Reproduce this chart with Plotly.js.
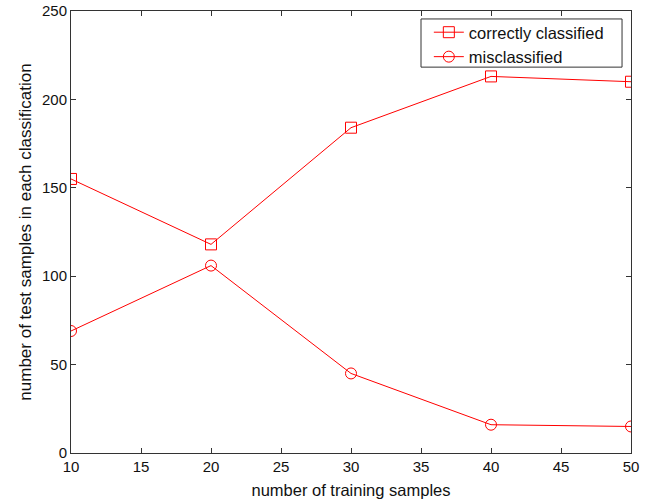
<!DOCTYPE html>
<html>
<head>
<meta charset="utf-8">
<script src="https://cdn.plot.ly/plotly-3.0.1.min.js"></script>
<style>html,body{margin:0;padding:0;background:#fff;}#chart{width:657px;height:504px;}</style>
</head>
<body>
<div id="chart"></div>
<script>
const trainingSamples = [10, 20, 30, 40, 50];
const correctlyClassified = [155, 118, 184, 213, 210];
const misclassified = [69, 106, 45, 16, 15];
const seriesNames = ["correctly classified", "misclassified"];

const fam = "Liberation Sans, Arial, sans-serif";
const tickFont = {family: fam, size: 15, color: "#111"};
const traces = [
  {x: trainingSamples, y: correctlyClassified, name: seriesNames[0], mode: "lines+markers",
   line: {color: "#ff0000", width: 1}, marker: {symbol: "square-open", size: 11, color: "#ff0000", line: {width: 1}}},
  {x: trainingSamples, y: misclassified, name: seriesNames[1], mode: "lines+markers",
   line: {color: "#ff0000", width: 1}, marker: {symbol: "circle-open", size: 11, color: "#ff0000", line: {width: 1}}}
];
const axisCommon = {showgrid: false, zeroline: false, showline: true, linecolor: "#333", linewidth: 1,
  mirror: "ticks", ticks: "inside", ticklen: 5, tickcolor: "#333", tickfont: tickFont};
const layout = {
  width: 657, height: 504,
  margin: {l: 71, r: 26, t: 11, b: 51},
  paper_bgcolor: "#fff", plot_bgcolor: "#fff",
  font: tickFont,
  showlegend: true,
  legend: {x: 0.639, y: 0.991, xanchor: "left", yanchor: "top", borderwidth: 0,
    bgcolor: "rgba(0,0,0,0)", font: {family: fam, size: 16.5, color: "#111"}, tracegroupgap: 0},
  shapes: [{type: "rect", xref: "paper", yref: "paper", x0: 0.625, x1: 0.984, y0: 0.873, y1: 0.982,
    line: {color: "#333", width: 1}, fillcolor: "rgba(0,0,0,0)", layer: "above"}],
  xaxis: Object.assign({}, axisCommon, {range: [10, 50], tickvals: [10,15,20,25,30,35,40,45,50],
    title: {text: "number of training samples", font: {family: fam, size: 16.5, color: "#111"}, standoff: 10}}),
  yaxis: Object.assign({}, axisCommon, {range: [0, 250], tickvals: [0,50,100,150,200,250],
    title: {text: "number of test samples in each classification", font: {family: fam, size: 17, color: "#111"}, standoff: 6}})
};
Plotly.newPlot("chart", traces, layout, {displayModeBar: false, staticPlot: true});
</script>
</body>
</html>
